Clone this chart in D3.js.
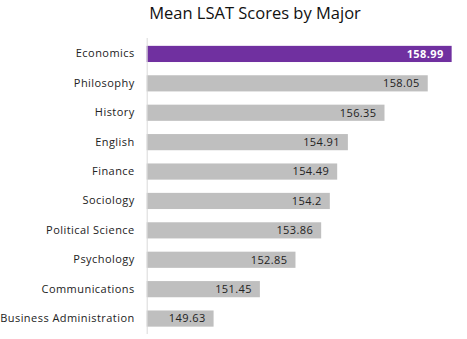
<!DOCTYPE html>
<html>
<head>
<meta charset="utf-8">
<script src="https://cdn.jsdelivr.net/npm/d3@7/dist/d3.min.js"></script>
<style>
  html, body { margin: 0; padding: 0; background: #fff; }
  svg { display: block; }
</style>
</head>
<body>
<svg id="chart" width="467" height="339"></svg>
<script>
// Mean LSAT scores by undergraduate major
const majors = ["Economics", "Philosophy", "History", "English", "Finance",
  "Sociology", "Political Science", "Psychology", "Communications", "Business Administration"];
const scores = [158.99, 158.05, 156.35, 154.91, 154.49, 154.2, 153.86, 152.85, 151.45, 149.63];
const highlightMajor = "Economics";

const data = majors.map((m, i) => ({ major: m, score: scores[i] }));

const svg = d3.select("#chart");
const font = "'Open Sans', sans-serif";

const x = d3.scaleLinear().domain([147, 159]).range([146.7, 451.9]);
const y = d3.scaleBand().domain(majors).range([38.5, 334]).paddingInner(0.45).paddingOuter(0.25);

// title
svg.append("text")
  .attr("x", 255)
  .attr("y", 19)
  .attr("text-anchor", "middle")
  .attr("font-family", font)
  .attr("font-size", 16.5)
  .attr("fill", "#111")
  .text("Mean LSAT Scores by Major");

// bars
svg.append("g").selectAll("rect")
  .data(data)
  .join("rect")
  .attr("x", x(147))
  .attr("y", d => y(d.major))
  .attr("width", d => x(d.score) - x(147))
  .attr("height", y.bandwidth())
  .attr("fill", d => d.major === highlightMajor ? "#7030A0" : "#BFBFBF");

// value labels inside the bar ends
svg.append("g").selectAll("text")
  .data(data)
  .join("text")
  .attr("x", d => x(d.score) - 8)
  .attr("y", d => y(d.major) + y.bandwidth() / 2)
  .attr("dy", "0.35em")
  .attr("text-anchor", "end")
  .attr("font-family", font)
  .attr("font-size", 11)
  .attr("letter-spacing", 0.4)
  .attr("font-weight", d => d.major === highlightMajor ? 700 : 400)
  .attr("fill", d => d.major === highlightMajor ? "#fff" : "#222")
  .text(d => d.score);

// category axis
const yAxis = svg.append("g")
  .attr("transform", `translate(${x(147)},0)`)
  .call(d3.axisLeft(y).tickSize(0).tickPadding(12));
yAxis.select(".domain").attr("stroke", "#d9d9d9").attr("stroke-width", 1)
  .attr("d", `M0.5,38V334`);
yAxis.selectAll("text")
  .attr("font-family", font)
  .attr("font-size", 11)
  .attr("letter-spacing", 0.45)
  .attr("fill", "#222");
</script>
</body>
</html>
